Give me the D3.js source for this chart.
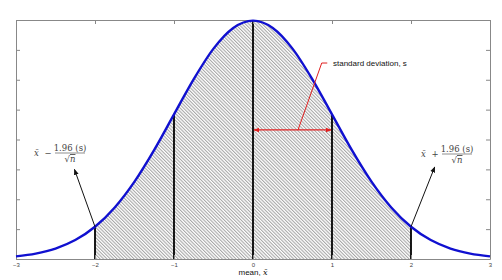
<!DOCTYPE html>
<html>
<head>
<meta charset="utf-8">
<script src="https://cdn.jsdelivr.net/npm/d3@7"></script>
<style>
  body { margin: 0; background: #fff; }
  svg { display: block; }
  .serif { font-family: "DejaVu Serif", "Liberation Serif", serif; }
  .sans { font-family: "Liberation Sans", Arial, sans-serif; }
</style>
</head>
<body>
<svg id="chart" width="502" height="280"></svg>
<script>
// density values, x from -3 to 3 in steps of 0.25
const xValues = [-3, -2.75, -2.5, -2.25, -2, -1.75, -1.5, -1.25, -1, -0.75, -0.5, -0.25, 0,
  0.25, 0.5, 0.75, 1, 1.25, 1.5, 1.75, 2, 2.25, 2.5, 2.75, 3];
const density = [0.0044, 0.0091, 0.0175, 0.0317, 0.054, 0.0863, 0.1295, 0.1826, 0.242, 0.3011, 0.3521, 0.3867, 0.3989,
  0.3867, 0.3521, 0.3011, 0.242, 0.1826, 0.1295, 0.0863, 0.054, 0.0317, 0.0175, 0.0091, 0.0044];
const xTicks = [-3, -2, -1, 0, 1, 2, 3];
const yTicks = [0, 0.05, 0.1, 0.15, 0.2, 0.25, 0.3, 0.35, 0.4];
const markers = [-2, -1, 0, 1, 2];

const width = 502, height = 280;
const margin = { top: 20, right: 12, bottom: 21, left: 16 };

const svg = d3.select("#chart");

const x = d3.scaleLinear().domain([-3, 3]).range([margin.left, width - margin.right]);
const y = d3.scaleLinear().domain([0, 0.4]).range([height - margin.bottom, margin.top]);

const pts = xValues.map((v, i) => ({ x: v, y: density[i] }));
const shaded = pts.filter(d => d.x >= -2 && d.x <= 2);

// hatch pattern
const defs = svg.append("defs");
const pat = defs.append("pattern")
  .attr("id", "hatch")
  .attr("patternUnits", "userSpaceOnUse")
  .attr("width", 2.4)
  .attr("height", 2.4)
  .attr("patternTransform", "rotate(-45)");
pat.append("rect").attr("width", 2.4).attr("height", 2.4).attr("fill", "#fff");
pat.append("line")
  .attr("x1", 0.6).attr("y1", 0).attr("x2", 0.6).attr("y2", 2.4)
  .attr("stroke", "#8a8a8a").attr("stroke-width", 0.8);

const area = d3.area()
  .x(d => x(d.x))
  .y0(y(0))
  .y1(d => y(d.y))
  .curve(d3.curveMonotoneX);

svg.append("path")
  .datum(shaded)
  .attr("d", area)
  .attr("fill", "url(#hatch)");

// vertical marker lines
svg.append("g")
  .selectAll("line")
  .data(markers)
  .join("line")
  .attr("x1", d => x(d))
  .attr("x2", d => x(d))
  .attr("y1", y(0))
  .attr("y2", d => y(density[xValues.indexOf(d)]))
  .attr("stroke", "#000")
  .attr("stroke-width", 1.8);

// axes (MATLAB style box, inward ticks)
const axisColor = "#888";
function styleAxis(g) {
  g.select(".domain").attr("stroke", axisColor);
  g.selectAll(".tick line").attr("stroke", axisColor);
  g.selectAll(".tick text").attr("fill", "#444").attr("font-size", 6)
    .attr("font-family", "Liberation Sans, Arial, sans-serif");
}

svg.append("g")
  .attr("transform", `translate(0,${y(0)})`)
  .call(d3.axisBottom(x).tickValues(xTicks).tickSizeInner(-4).tickSizeOuter(0).tickPadding(4).tickFormat(d3.format("d")))
  .call(styleAxis);
svg.append("g")
  .attr("transform", `translate(0,${y(0.4)})`)
  .call(d3.axisTop(x).tickValues(xTicks).tickSizeInner(-4).tickSizeOuter(0).tickFormat(""))
  .call(styleAxis);
svg.append("g")
  .attr("transform", `translate(${x(-3)},0)`)
  .call(d3.axisLeft(y).tickValues(yTicks).tickSizeInner(-4).tickSizeOuter(0).tickFormat(""))
  .call(styleAxis);
svg.append("g")
  .attr("transform", `translate(${x(3)},0)`)
  .call(d3.axisRight(y).tickValues(yTicks).tickSizeInner(-4).tickSizeOuter(0).tickFormat(""))
  .call(styleAxis);

// the curve
const line = d3.line()
  .x(d => x(d.x))
  .y(d => y(d.y))
  .curve(d3.curveMonotoneX);

svg.append("path")
  .datum(pts)
  .attr("d", line)
  .attr("fill", "none")
  .attr("stroke", "#1010d0")
  .attr("stroke-width", 2.4);

// arrowheads
function marker(id, color, size) {
  defs.append("marker")
    .attr("id", id)
    .attr("viewBox", "0 -5 10 10")
    .attr("refX", 9)
    .attr("refY", 0)
    .attr("markerUnits", "userSpaceOnUse")
    .attr("markerWidth", size)
    .attr("markerHeight", size)
    .attr("orient", "auto-start-reverse")
    .append("path")
    .attr("d", "M0,-4L10,0L0,4Z")
    .attr("fill", color);
}
marker("arrowBlack", "#111", 6);
marker("arrowRed", "#e02020", 6);

// standard deviation arrow
const sdY = 0.216;
svg.append("line")
  .attr("x1", x(0) + 1).attr("x2", x(1) - 1)
  .attr("y1", y(sdY)).attr("y2", y(sdY))
  .attr("stroke", "#e02020").attr("stroke-width", 1.2)
  .attr("marker-start", "url(#arrowRed)")
  .attr("marker-end", "url(#arrowRed)");

svg.append("polyline")
  .attr("points", [[x(0.57), y(sdY)], [x(0.87), y(0.328)], [x(0.94), y(0.328)]].map(p => p.join(",")).join(" "))
  .attr("fill", "none")
  .attr("stroke", "#e02020").attr("stroke-width", 1);

svg.append("text")
  .attr("class", "sans")
  .attr("x", x(1) + 1).attr("y", y(0.328) + 3)
  .attr("font-size", 8)
  .attr("fill", "#111")
  .text("standard deviation, s");

// confidence bound arrows
svg.append("line")
  .attr("x1", x(-2)).attr("y1", y(0.054))
  .attr("x2", x(-2.26)).attr("y2", y(0.15))
  .attr("stroke", "#111").attr("stroke-width", 1)
  .attr("marker-end", "url(#arrowBlack)");
svg.append("line")
  .attr("x1", x(2)).attr("y1", y(0.054))
  .attr("x2", x(2.3)).attr("y2", y(0.154))
  .attr("stroke", "#111").attr("stroke-width", 1)
  .attr("marker-end", "url(#arrowBlack)");

function boundLabel(cx, cy, sign) {
  const g = svg.append("g").attr("class", "serif").attr("fill", "#444").attr("font-size", 8.5);
  g.append("text").attr("x", cx - 36).attr("y", cy + 3).attr("font-style", "italic").text("x\u0304");
  g.append("text").attr("x", cx - 22).attr("y", cy + 3).attr("text-anchor", "middle").text(sign);
  g.append("text").attr("x", cx).attr("y", cy - 2.5).attr("text-anchor", "middle").text("1.96 (s)");
  g.append("line").attr("x1", cx - 15).attr("x2", cx + 15).attr("y1", cy).attr("y2", cy)
    .attr("stroke", "#444").attr("stroke-width", 0.6);
  const den = g.append("text").attr("x", cx).attr("y", cy + 9).attr("text-anchor", "middle");
  den.append("tspan").text("\u221A");
  den.append("tspan").attr("font-style", "italic").attr("text-decoration", "overline").text("n");
}
boundLabel(70, 153, "\u2212");
boundLabel(457, 154, "+");

// x axis title
const title = svg.append("text")
  .attr("x", x(0)).attr("y", 275)
  .attr("text-anchor", "middle")
  .attr("font-size", 8)
  .attr("fill", "#111");
title.append("tspan").attr("class", "sans").text("mean, ");
title.append("tspan").attr("class", "serif").attr("font-style", "italic").text("x\u0304");
</script>
</body>
</html>
